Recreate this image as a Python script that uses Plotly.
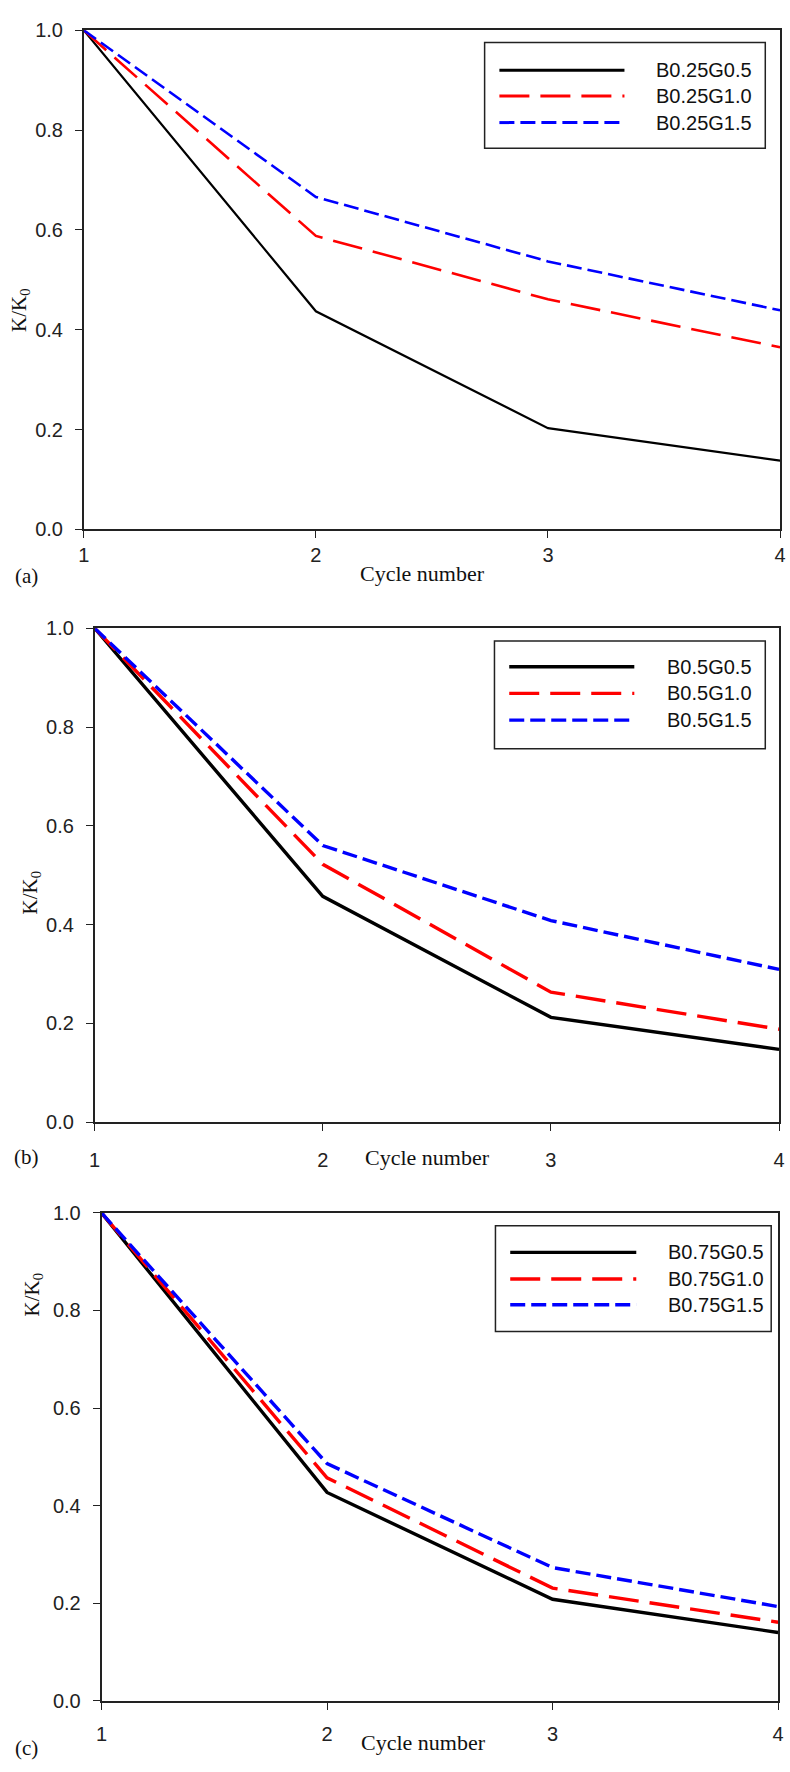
import plotly.graph_objects as go

# Stiffness ratio K/K0 versus loading cycle, three B ratios (panels a-c)
cycles = [1, 2, 3, 4]
x_ticks = [1, 2, 3, 4]
y_ticks = [0.0, 0.2, 0.4, 0.6, 0.8, 1.0]

names_a = ["B0.25G0.5", "B0.25G1.0", "B0.25G1.5"]
a_g05 = [1.0, 0.437, 0.203, 0.138]
a_g10 = [1.0, 0.588, 0.461, 0.365]
a_g15 = [1.0, 0.666, 0.537, 0.439]

names_b = ["B0.5G0.5", "B0.5G1.0", "B0.5G1.5"]
b_g05 = [1.0, 0.457, 0.212, 0.147]
b_g10 = [1.0, 0.522, 0.263, 0.188]
b_g15 = [1.0, 0.560, 0.408, 0.309]

names_c = ["B0.75G0.5", "B0.75G1.0", "B0.75G1.5"]
c_g05 = [1.0, 0.427, 0.208, 0.140]
c_g10 = [1.0, 0.457, 0.231, 0.161]
c_g15 = [1.0, 0.486, 0.273, 0.193]

panel_tags = ["(a)", "(b)", "(c)"]
x_title = "Cycle number"
y_title = "K/K<sub>0</sub>"

W, H = 790, 1772
SANS = "Liberation Sans, Arial, sans-serif"
SERIF = "Liberation Serif, Times New Roman, serif"

colors = ["black", "red", "blue"]
dashes = ["solid", "30px,11px", "15px,6px"]


def px(x):
    return x / W


def py(y):
    return 1 - y / H


# panel geometry in pixels: plot left/right/top/bottom, legend box, text spots
panels = [
    dict(series=[a_g05, a_g10, a_g15], names=names_a, widths=[2.2, 2.6, 2.6],
         l=79, r=786, t=19.5, b=525, xstand=0, leg=(486, 771, 32, 139),
         rows=[60, 86, 113], samp=(501, 628), txt=658, leglw=3,
         xt=(423, 570), tag=(21, 572), yt=(14, 303)),
    dict(series=[b_g05, b_g10, b_g15], names=names_b, widths=[3.4, 3.4, 3.4],
         l=90, r=785, t=625, b=1125, xstand=12, leg=(496, 771, 638, 747),
         rows=[664, 691, 718], samp=(511, 638), txt=669, leglw=3.4,
         xt=(428, 1161), tag=(21, 1160), yt=(25, 893)),
    dict(series=[c_g05, c_g10, c_g15], names=names_c, widths=[3.4, 3.4, 3.4],
         l=97, r=784, t=1217, b=1711, xstand=7, leg=(497, 777, 1230, 1337),
         rows=[1257, 1284, 1310], samp=(512, 640), txt=670, leglw=3.4,
         xt=(424, 1753), tag=(21, 1759), yt=(27, 1300)),
]

fig = go.Figure()
shapes = []
annotations = []
layout = {}

for i, p in enumerate(panels, start=1):
    xa = "x" if i == 1 else f"x{i}"
    ya = "y" if i == 1 else f"y{i}"
    for vals, name, col, dash, lw in zip(p["series"], p["names"], colors, dashes, p["widths"]):
        fig.add_trace(go.Scatter(
            x=cycles, y=vals, name=name, mode="lines",
            line=dict(color=col, width=lw, dash=dash),
            xaxis=xa, yaxis=ya, showlegend=False, cliponaxis=False,
        ))

    common = dict(showline=True, linecolor="#222", linewidth=1.6, mirror=True,
                  ticks="outside", ticklen=7, tickwidth=1.4, tickcolor="#222",
                  showgrid=False, zeroline=False,
                  tickfont=dict(family=SANS, size=20, color="#222"))
    layout["xaxis" if i == 1 else f"xaxis{i}"] = dict(
        common, domain=[px(p["l"]), px(p["r"])], range=[1, 4],
        tickvals=x_ticks, ticktext=[str(v) for v in x_ticks],
        anchor=ya, ticklabelstandoff=p["xstand"])
    layout["yaxis" if i == 1 else f"yaxis{i}"] = dict(
        common, domain=[py(p["b"]), py(p["t"])], range=[0, 1],
        tickvals=y_ticks, ticktext=[f"{v:.1f}" for v in y_ticks],
        anchor=xa, ticklabelstandoff=8)

    # legend box with long line samples
    lx0, lx1, ly0, ly1 = p["leg"]
    shapes.append(dict(type="rect", xref="paper", yref="paper",
                       x0=px(lx0), x1=px(lx1), y0=py(ly1), y1=py(ly0),
                       line=dict(color="#222", width=1.5), fillcolor="white", layer="above"))
    for row, name, col, dash in zip(p["rows"], p["names"], colors, dashes):
        shapes.append(dict(type="line", xref="paper", yref="paper",
                           x0=px(p["samp"][0]), x1=px(p["samp"][1]), y0=py(row), y1=py(row),
                           line=dict(color=col, width=p["leglw"], dash=dash), layer="above"))
        annotations.append(dict(text=name, xref="paper", yref="paper",
                                x=px(p["txt"]), y=py(row), xanchor="left", yanchor="middle",
                                showarrow=False, font=dict(family=SANS, size=20, color="#111")))

    annotations.append(dict(text=x_title, xref="paper", yref="paper",
                            x=px(p["xt"][0]), y=py(p["xt"][1]), xanchor="center", yanchor="middle",
                            showarrow=False, font=dict(family=SERIF, size=22, color="#111")))
    annotations.append(dict(text=panel_tags[i - 1], xref="paper", yref="paper",
                            x=px(p["tag"][0]), y=py(p["tag"][1]), xanchor="center", yanchor="middle",
                            showarrow=False, font=dict(family=SERIF, size=21, color="#111")))
    annotations.append(dict(text=y_title, xref="paper", yref="paper", textangle=-90,
                            x=px(p["yt"][0]), y=py(p["yt"][1]), xanchor="center", yanchor="middle",
                            showarrow=False, font=dict(family=SERIF, size=21, color="#111")))

fig.update_layout(
    width=W, height=H,
    margin=dict(l=0, r=0, t=0, b=0),
    paper_bgcolor="white", plot_bgcolor="white",
    showlegend=False,
    shapes=shapes, annotations=annotations,
    **layout,
)

fig.write_html("out.html")
